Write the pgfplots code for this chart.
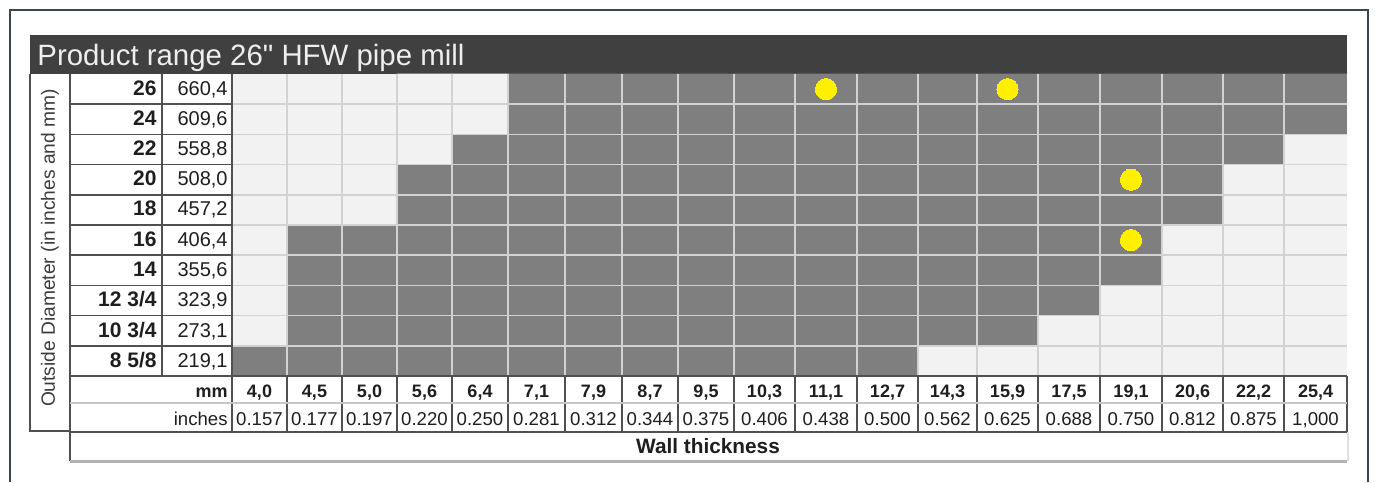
\documentclass[border=0pt]{standalone}
\usepackage{pgfplots}
\pgfplotsset{compat=1.18}
\usepackage{pgfplotstable}
\usepackage{fontspec}
\setmainfont{Liberation Sans}
\newfontfamily\titlefont{Liberation Sans}
\definecolor{darkcell}{RGB}{127,127,127}
\definecolor{lightcell}{RGB}{242,242,242}
\definecolor{gridcol}{RGB}{210,210,210}
\definecolor{titlebg}{RGB}{64,64,64}
\definecolor{titlefg}{RGB}{238,238,238}
\definecolor{framecol}{RGB}{58,70,76}
\definecolor{tline}{RGB}{80,80,80}
\definecolor{txt}{RGB}{30,30,30}
\definecolor{dotcol}{RGB}{255,240,0}

% x = column centre (px), y = row index (0 = 26 in), c = 1 if in product range
\pgfplotstableread[row sep=\\]{
x y c\\
259.5 0 0\\ 314.5 0 0\\ 369.5 0 0\\ 424.5 0 0\\ 480 0 0\\ 536.5 0 1\\ 593.5 0 1\\ 650 0 1\\ 706 0 1\\ 764.5 0 1\\ 826 0 1\\ 887.5 0 1\\ 947.5 0 1\\ 1007.5 0 1\\ 1069 0 1\\ 1131 0 1\\ 1192.5 0 1\\ 1253.5 0 1\\ 1315.5 0 1\\
259.5 1 0\\ 314.5 1 0\\ 369.5 1 0\\ 424.5 1 0\\ 480 1 0\\ 536.5 1 1\\ 593.5 1 1\\ 650 1 1\\ 706 1 1\\ 764.5 1 1\\ 826 1 1\\ 887.5 1 1\\ 947.5 1 1\\ 1007.5 1 1\\ 1069 1 1\\ 1131 1 1\\ 1192.5 1 1\\ 1253.5 1 1\\ 1315.5 1 1\\
259.5 2 0\\ 314.5 2 0\\ 369.5 2 0\\ 424.5 2 0\\ 480 2 1\\ 536.5 2 1\\ 593.5 2 1\\ 650 2 1\\ 706 2 1\\ 764.5 2 1\\ 826 2 1\\ 887.5 2 1\\ 947.5 2 1\\ 1007.5 2 1\\ 1069 2 1\\ 1131 2 1\\ 1192.5 2 1\\ 1253.5 2 1\\ 1315.5 2 0\\
259.5 3 0\\ 314.5 3 0\\ 369.5 3 0\\ 424.5 3 1\\ 480 3 1\\ 536.5 3 1\\ 593.5 3 1\\ 650 3 1\\ 706 3 1\\ 764.5 3 1\\ 826 3 1\\ 887.5 3 1\\ 947.5 3 1\\ 1007.5 3 1\\ 1069 3 1\\ 1131 3 1\\ 1192.5 3 1\\ 1253.5 3 0\\ 1315.5 3 0\\
259.5 4 0\\ 314.5 4 0\\ 369.5 4 0\\ 424.5 4 1\\ 480 4 1\\ 536.5 4 1\\ 593.5 4 1\\ 650 4 1\\ 706 4 1\\ 764.5 4 1\\ 826 4 1\\ 887.5 4 1\\ 947.5 4 1\\ 1007.5 4 1\\ 1069 4 1\\ 1131 4 1\\ 1192.5 4 1\\ 1253.5 4 0\\ 1315.5 4 0\\
259.5 5 0\\ 314.5 5 1\\ 369.5 5 1\\ 424.5 5 1\\ 480 5 1\\ 536.5 5 1\\ 593.5 5 1\\ 650 5 1\\ 706 5 1\\ 764.5 5 1\\ 826 5 1\\ 887.5 5 1\\ 947.5 5 1\\ 1007.5 5 1\\ 1069 5 1\\ 1131 5 1\\ 1192.5 5 0\\ 1253.5 5 0\\ 1315.5 5 0\\
259.5 6 0\\ 314.5 6 1\\ 369.5 6 1\\ 424.5 6 1\\ 480 6 1\\ 536.5 6 1\\ 593.5 6 1\\ 650 6 1\\ 706 6 1\\ 764.5 6 1\\ 826 6 1\\ 887.5 6 1\\ 947.5 6 1\\ 1007.5 6 1\\ 1069 6 1\\ 1131 6 1\\ 1192.5 6 0\\ 1253.5 6 0\\ 1315.5 6 0\\
259.5 7 0\\ 314.5 7 1\\ 369.5 7 1\\ 424.5 7 1\\ 480 7 1\\ 536.5 7 1\\ 593.5 7 1\\ 650 7 1\\ 706 7 1\\ 764.5 7 1\\ 826 7 1\\ 887.5 7 1\\ 947.5 7 1\\ 1007.5 7 1\\ 1069 7 1\\ 1131 7 0\\ 1192.5 7 0\\ 1253.5 7 0\\ 1315.5 7 0\\
259.5 8 0\\ 314.5 8 1\\ 369.5 8 1\\ 424.5 8 1\\ 480 8 1\\ 536.5 8 1\\ 593.5 8 1\\ 650 8 1\\ 706 8 1\\ 764.5 8 1\\ 826 8 1\\ 887.5 8 1\\ 947.5 8 1\\ 1007.5 8 1\\ 1069 8 0\\ 1131 8 0\\ 1192.5 8 0\\ 1253.5 8 0\\ 1315.5 8 0\\
259.5 9 1\\ 314.5 9 1\\ 369.5 9 1\\ 424.5 9 1\\ 480 9 1\\ 536.5 9 1\\ 593.5 9 1\\ 650 9 1\\ 706 9 1\\ 764.5 9 1\\ 826 9 1\\ 887.5 9 1\\ 947.5 9 0\\ 1007.5 9 0\\ 1069 9 0\\ 1131 9 0\\ 1192.5 9 0\\ 1253.5 9 0\\ 1315.5 9 0\\
}\cells

\newcommand\rl[2]{\makebox[50pt][r]{\fontsize{10.5}{12}\selectfont\bfseries #1}\makebox[35.5pt][r]{#2}}
\newcommand\cl[2]{{\fontsize{9}{14}\selectfont\bfseries #1}\\#2}

\begin{document}
\begin{tikzpicture}
\begin{scope}[x=0.5pt,y=-0.5pt]
  % outer frame
  \draw[framecol, line width=1.25pt] (10,482) -- (10,10) -- (1368,10) -- (1368,482);
  % title bar
  \fill[titlebg] (30,35) rectangle (1347,74);
  \node[anchor=base west, inner sep=0pt, text=titlefg, font=\titlefont\fontsize{14.7}{17}\selectfont] at (37,65) {Product range 26" HFW pipe mill};
\end{scope}

\begin{axis}[
  at={(116pt,-37pt)}, anchor=north west,
  scale only axis, width=557.5pt, height=151pt,
  xmin=232, xmax=1347, ymin=-0.5, ymax=9.5, y dir=reverse,
  axis line style={draw=none},
  xtick={259.5,314.5,369.5,424.5,480,536.5,593.5,650,706,764.5,826,887.5,947.5,1007.5,1069,1131,1192.5,1253.5,1315.5},
  ytick={0,...,9},
  minor xtick={287,342,397,452,508,565,622,678,734,795,857,918,977,1038,1100,1162,1223,1284},
  minor ytick={0.5,1.5,...,8.5},
  xminorgrids, yminorgrids,
  minor grid style={gridcol, line width=0.8pt},
  major tick length=0pt, minor tick length=0pt,
  axis on top,
  colormap={cellmap}{rgb255(0)=(242,242,242) rgb255(1)=(127,127,127)},
  point meta min=0, point meta max=1,
  xticklabels={
    {\cl{4,0}{0.157}},{\cl{4,5}{0.177}},{\cl{5,0}{0.197}},{\cl{5,6}{0.220}},
    {\cl{6,4}{0.250}},{\cl{7,1}{0.281}},{\cl{7,9}{0.312}},{\cl{8,7}{0.344}},
    {\cl{9,5}{0.375}},{\cl{10,3}{0.406}},{\cl{11,1}{0.438}},{\cl{12,7}{0.500}},
    {\cl{14,3}{0.562}},{\cl{15,9}{0.625}},{\cl{17,5}{0.688}},{\cl{19,1}{0.750}},
    {\cl{20,6}{0.812}},{\cl{22,2}{0.875}},{\cl{25,4}{1,000}}},
  xticklabel style={align=center, font=\fontsize{9.3}{14}\selectfont, text=txt,
    anchor=north, inner sep=0pt, yshift=-4.5pt},
  yticklabels={
    {\rl{26}{660,4}},{\rl{24}{609,6}},{\rl{22}{558,8}},{\rl{20}{508,0}},
    {\rl{18}{457,2}},{\rl{16}{406,4}},{\rl{14}{355,6}},{\rl{12 3/4}{323,9}},
    {\rl{10 3/4}{273,1}},{\rl{8 5/8}{219,1}}},
  yticklabel style={font=\fontsize{10}{12}\selectfont, text=txt,
    anchor=east, inner sep=0pt, xshift=-2pt},
  clip=false,
]
\addplot[matrix plot*, mesh/cols=19, point meta=explicit, shader=flat corner]
  table[x=x, y=y, meta=c] {\cells};
\addplot[only marks, color=dotcol, mark=*, mark size=5.3pt, mark options={draw=dotcol, fill=dotcol, line width=0pt}]
  coordinates {(826,0) (1007.5,0) (1131,3) (1131,5)};
\end{axis}

\begin{scope}[x=0.5pt,y=-0.5pt]
  \begin{scope}[tline, line width=0.75pt]
    % left label box
    \draw (30,74) -- (30,431) -- (70,431);
    \draw (70,74) -- (70,461);
    \draw (162,74) -- (162,376);
    \draw (232,74) -- (232,432);
    \foreach \k in {1,...,9} \draw (70,{74+30.2*\k}) -- (232,{74+30.2*\k});
    \draw (70,376) -- (1347,376);
    \draw (70,432) -- (1347,432);
    \foreach \b in {287,342,397,452,508,565,622,678,734,795,857,918,977,1038,1100,1162,1223,1284,1347}
      \draw (\b,376) -- (\b,432);
  \end{scope}
  \draw[gray!45, line width=0.75pt] (70,403) -- (1347,403);
  \draw[gray!60, line width=1.4pt] (70,461.5) -- (1347,461.5);
  \draw[gray!25, line width=1pt] (1347.5,432) -- (1347.5,461);
  \node[anchor=base east, inner sep=0pt, text=txt, font=\fontsize{9}{11}\selectfont\bfseries] at (228,397) {mm};
  \node[anchor=base east, inner sep=0pt, text=txt, font=\fontsize{9.3}{11}\selectfont] at (228,425) {inches};
  \node[rotate=90, inner sep=0pt, text={rgb,255:red,60;green,60;blue,60}, font=\fontsize{9.6}{11}\selectfont] at (50,248) {Outside Diameter (in inches and mm)};
  \node[anchor=base, inner sep=0pt, text=txt, font=\fontsize{10.4}{12}\selectfont\bfseries] at (708,453) {Wall thickness};
  \pgfresetboundingbox
  \path[use as bounding box] (0,0) rectangle (1375,482);
\end{scope}
\end{tikzpicture}
\end{document}
